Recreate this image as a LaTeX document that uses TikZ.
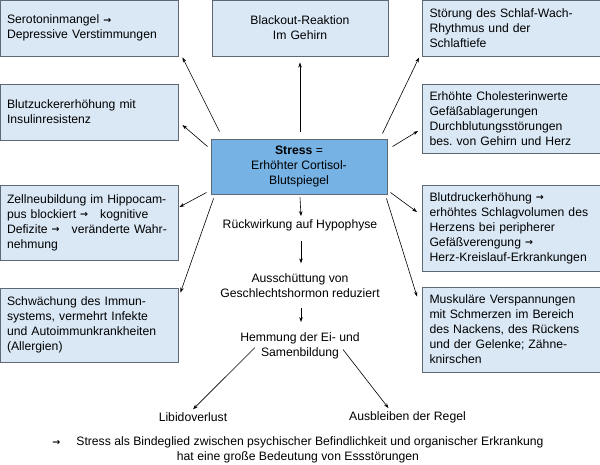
\documentclass[tikz,border=0pt]{standalone}
\usepackage{fontspec}
\setmainfont{Liberation Sans}
\newfontfamily\pfeilfont{DejaVu Sans}
\newcommand{\pf}{\raisebox{0.3pt}{\pfeilfont\bfseries\fontsize{9.5}{10}\selectfont →}}
\usetikzlibrary{arrows.meta}
\definecolor{boxfill}{RGB}{218,232,246}
\definecolor{hubfill}{RGB}{118,178,228}
\definecolor{boxline}{RGB}{95,105,115}
\frenchspacing
\begin{document}
\begin{tikzpicture}[x=1pt, y=-1pt,
    font=\fontsize{12.2}{15}\selectfont,
    box/.style={draw=boxline, line width=0.9pt, rectangle, fill=boxfill,
                inner xsep=7pt, text width=164pt, align=left},
    lbox/.style={box, minimum width=178pt},
    rbox/.style={box, minimum width=177pt},
    hub/.style={draw=boxline, line width=0.9pt, rectangle, fill=hubfill,
                minimum width=176pt, minimum height=55pt, align=center},
    lbl/.style={align=center, inner sep=3pt},
    arr/.style={-{Stealth[length=5pt,width=3.5pt]}, line width=0.6pt}]
    \useasboundingbox (0,0) rectangle (600,464);
    % Wirkungen links
    \node[lbox, minimum height=56pt] (sero)  at (89,28)    {Serotoninmangel \pf\\Depressive Verstimmungen};
    \node[lbox, minimum height=56pt] (blut)  at (89,112)   {Blutzuckererhöhung mit\\Insulinresistenz};
    \node[lbox, minimum height=75pt] (zell)  at (89,222.5) {Zellneubildung im Hippocam-\\pus blockiert \pf\hspace{12pt}kognitive\\Defizite \pf\hspace{12pt}veränderte Wahr-\\nehmung};
    \node[lbox, minimum height=74pt] (immun) at (89,325)   {Schwächung des Immun-\\systems, vermehrt Infekte\\und Autoimmunkrankheiten\\(Allergien)};
    % Mitte
    \node[box, minimum width=176pt, minimum height=56pt, text width=160pt, align=center]
          (black) at (300,28) {Blackout-Reaktion\\Im Gehirn};
    \node[hub] (stress) at (299,166.5) {\textbf{Stress} =\\Erhöhter Cortisol-\\Blutspiegel};
    % Wirkungen rechts
    \node[rbox, minimum height=56pt] (schlaf)    at (511.5,28)    {Störung des Schlaf-Wach-\\Rhythmus und der\\Schlaftiefe};
    \node[rbox, minimum height=69pt] (chol)      at (511.5,118.5) {Erhöhte Cholesterinwerte\\Gefäßablagerungen\\Durchblutungsstörungen\\bes. von Gehirn und Herz};
    \node[rbox, minimum height=86pt] (blutdruck) at (511.5,228)   {Blutdruckerhöhung \pf\\erhöhtes Schlagvolumen des\\Herzens bei peripherer\\Gefäßverengung \pf\\Herz-Kreislauf-Erkrankungen};
    \node[rbox, minimum height=85pt] (muskel)    at (511.5,329.5) {Muskuläre Verspannungen\\mit Schmerzen im Bereich\\des Nackens, des Rückens\\und der Gelenke; Zähne-\\knirschen};
    % Hormonkette
    \node[lbl] (rueck)  at (300,225)   {Rückwirkung auf Hypophyse};
    \node[lbl] (aus)    at (300,285.5) {Ausschüttung von\\Geschlechtshormon reduziert};
    \node[lbl] (hemm)   at (300,345.5) {Hemmung der Ei- und\\Samenbildung};
    \node[lbl] (libido) at (193,417)   {Libidoverlust};
    \node[lbl] (regel)  at (407.5,417) {Ausbleiben der Regel};
    \node[lbl] (fazit)  at (298,450)   {\pf\hspace{16pt}Stress als Bindeglied zwischen psychischer Befindlichkeit und organischer Erkrankung\\hat eine große Bedeutung von Essstörungen};
    % Pfeile
    \draw[arr] ([xshift=9pt,yshift=7pt]stress.north west) -- ([xshift=4pt,yshift=-1pt]sero.south east);
    \draw[arr] ([xshift=-3pt,yshift=-8pt]stress.north west) -- ([xshift=4pt,yshift=-13pt]blut.east);
    \draw[arr] ([xshift=1pt,yshift=7pt]stress.north) -- ([yshift=-6pt]black.south);
    \draw[arr] ([xshift=-5pt,yshift=5pt]stress.north east) -- ([xshift=-3pt,yshift=-1pt]schlaf.south west);
    \draw[arr] ([xshift=5pt,yshift=-8pt]stress.north east) -- ([xshift=-4pt,yshift=-12.5pt]chol.west);
    \draw[arr] ([xshift=-4pt,yshift=2pt]stress.south west) -- ([xshift=1pt,yshift=15.5pt]zell.east);
    \draw[arr] ([xshift=3pt,yshift=-4pt]stress.south west) -- ([xshift=2pt,yshift=-5pt]immun.north east);
    \draw[arr] ([xshift=3pt,yshift=2pt]stress.south east) -- ([xshift=-5pt,yshift=16pt]blutdruck.west);
    \draw[arr] ([xshift=-1pt,yshift=-4pt]stress.south east) -- ([xshift=-5pt,yshift=-10pt]muskel.north west);
    \draw[arr] ([xshift=1pt,yshift=-3pt]stress.south) -- ([xshift=1pt]rueck.north);
    \foreach \a/\b in {rueck/aus, aus/hemm}
        \draw[arr] ([xshift=1pt,yshift=-7pt]\a.south) -- ([xshift=1pt,yshift=7pt]\b.north);
    \draw[arr] ([xshift=-45pt,yshift=-2pt]hemm.center) -- (libido.north);
    \draw[arr] ([xshift=43pt,yshift=-4pt]hemm.center) -- ([xshift=-19pt]regel.north);
\end{tikzpicture}
\end{document}
